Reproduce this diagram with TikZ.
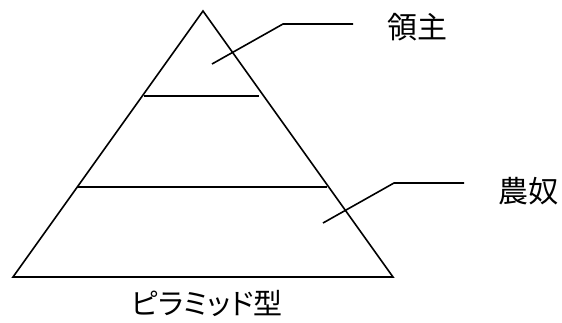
\documentclass[tikz,border=0pt]{standalone}
\usepackage{fontspec}
\usepackage{tikz}
\usetikzlibrary{positioning, calc}
\newfontfamily\jpfont{Noto Sans CJK JP}
\newfontfamily\jppfont[RawFeature=+palt]{Noto Sans CJK JP}

\begin{document}
\begin{tikzpicture}[x=1pt, y=-1pt,
    tri/.style={line width=1.6pt, line join=miter},
    leader/.style={line width=1.6pt},
    lbl/.style={font=\jpfont\fontsize{30}{32}\selectfont, inner sep=0pt}]
    \useasboundingbox (0,0) rectangle (562,322);

    % 三角形
    \coordinate (top) at (203, 11);
    \coordinate (bl) at (13, 277);
    \coordinate (br) at (393, 277);
    \draw[tri] (top) -- (bl) -- (br) -- cycle;

    % 区切り線
    \coordinate (s1l) at (144, 96);
    \coordinate (s1r) at (259, 96);
    \coordinate (s2l) at (77, 187);
    \coordinate (s2r) at (327, 187);
    \draw[tri] (s1l) -- (s1r);
    \draw[tri] (s2l) -- (s2r);

    % ラベル
    \node[lbl] (lord) at (417, 27) {領主};
    \node[lbl] (serf) at (528, 191) {農奴};
    \node[lbl, font=\jppfont\fontsize{29}{31}\selectfont] (cap) at (207, 303) {ピラミッド型};

    % 引出線
    \coordinate (p1) at (212, 64);
    \coordinate (k1) at (283, 24);
    \coordinate (e1) at (353, 24);
    \draw[leader] (p1) -- (k1) -- (e1);
    \coordinate (p2) at (323, 223);
    \coordinate (k2) at (394, 183);
    \coordinate (e2) at (464, 183);
    \draw[leader] (p2) -- (k2) -- (e2);
\end{tikzpicture}
\end{document}
